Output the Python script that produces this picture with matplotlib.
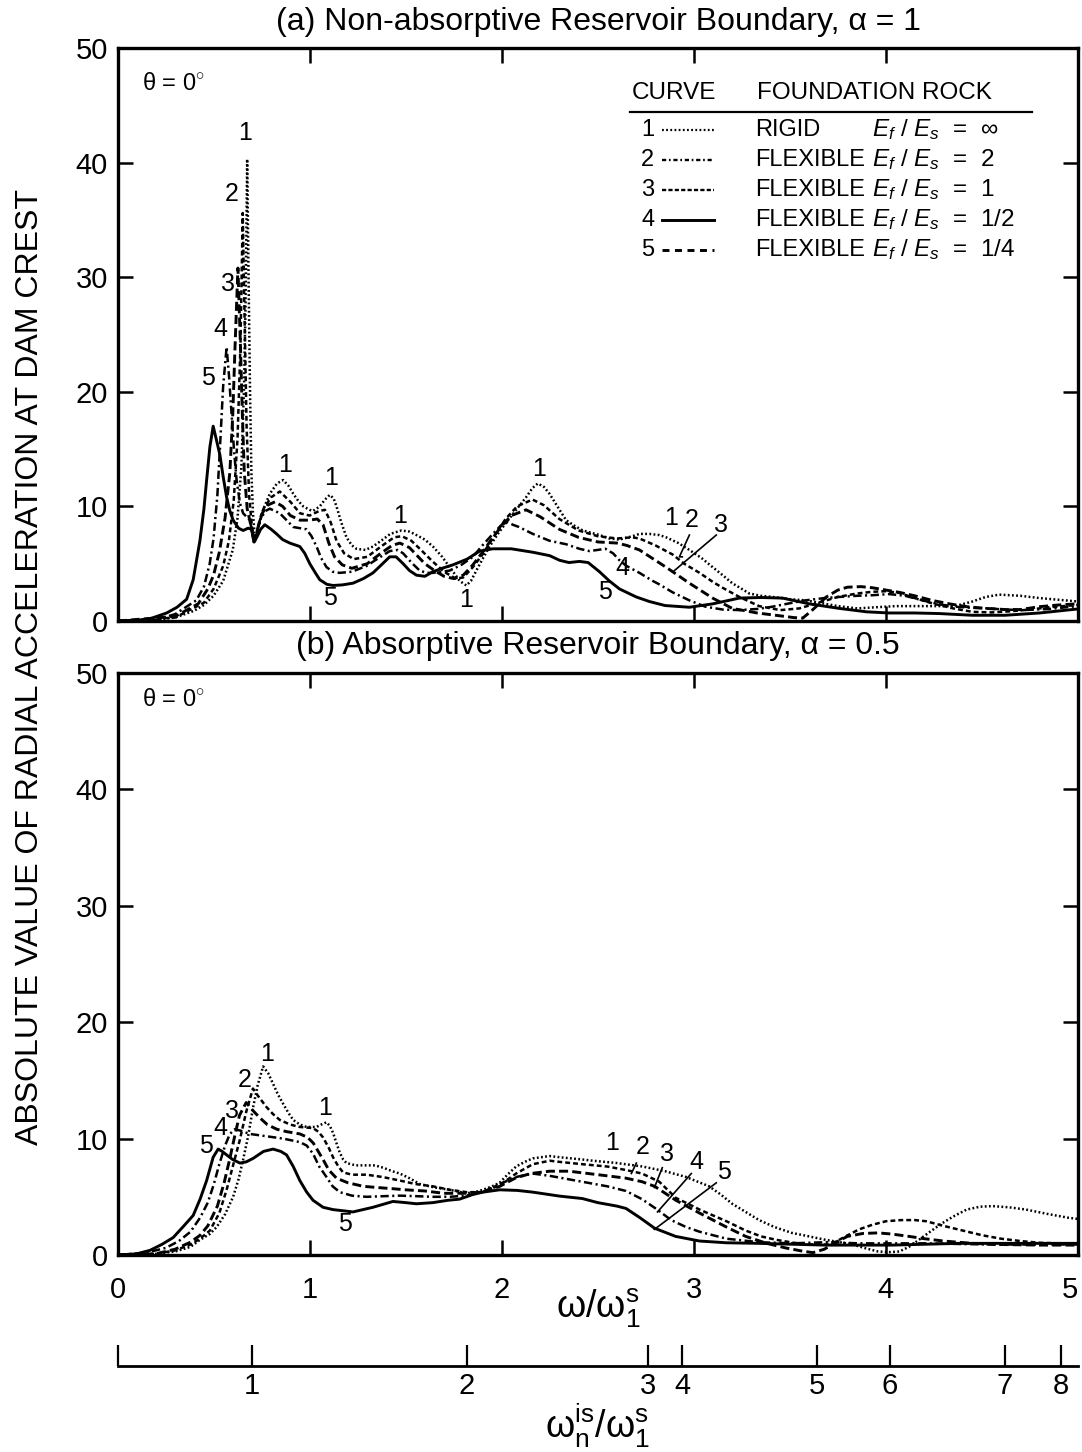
import matplotlib
matplotlib.use("Agg")
import matplotlib.pyplot as plt
from matplotlib.lines import Line2D

plt.rcParams['font.family'] = ['Liberation Sans', 'DejaVu Sans']
plt.rcParams['mathtext.fontset'] = 'custom'
plt.rcParams['mathtext.rm'] = 'Liberation Sans'
plt.rcParams['mathtext.it'] = 'Liberation Sans:italic'
plt.rcParams['mathtext.bf'] = 'Liberation Sans:bold'
plt.rcParams['lines.scale_dashes'] = False

# ---------------- data: |radial acceleration| vs omega/omega_1^s ----------------
# (a) non-absorptive reservoir boundary, alpha = 1
a1_x = [0, 0.2, 0.3, 0.4, 0.45, 0.5, 0.55, 0.6, 0.625, 0.645, 0.658, 0.667, 0.675, 0.683, 0.69, 0.697, 0.705,
        0.716, 0.73, 0.76, 0.793, 0.83, 0.862, 0.89, 0.915, 0.94, 0.967, 1.0, 1.018, 1.053, 1.08, 1.105, 1.125,
        1.14, 1.165, 1.192, 1.22, 1.244, 1.29, 1.33, 1.38, 1.42, 1.478, 1.52, 1.556, 1.6, 1.642, 1.69, 1.729,
        1.76, 1.781, 1.816, 1.84, 1.868, 1.9, 1.937, 1.98, 2.024, 2.08, 2.127, 2.16, 2.188, 2.22, 2.249, 2.29,
        2.335, 2.38, 2.422, 2.51, 2.56, 2.613, 2.68, 2.717, 2.769, 2.82, 2.856, 2.92, 2.977, 3.04, 3.098, 3.15,
        3.2, 3.25, 3.289, 3.35, 3.41, 3.5, 3.584, 3.65, 3.75, 3.85, 3.95, 4.05, 4.15, 4.25, 4.36, 4.45, 4.52,
        4.59, 4.7, 4.8, 4.9, 5.0]
a1_y = [0, 0.1, 0.3, 0.9, 1.4, 2.2, 3.5, 6.2, 9.0, 13.5, 20, 28, 40.3, 29, 20, 13, 9.5,
        6.9, 8.0, 9.8, 11.1, 12.0, 12.3, 11.8, 11.1, 10.5, 10.0, 9.7, 9.6, 10.0, 10.6, 11.0, 10.7,
        10.0, 8.6, 7.3, 6.6, 6.3, 6.2, 6.5, 7.1, 7.6, 7.9, 7.8, 7.5, 7.1, 6.5, 5.6, 4.7,
        4.0, 3.5, 3.1, 3.5, 4.4, 5.4, 6.5, 7.6, 8.6, 9.8, 10.8, 11.6, 12.0, 11.7, 11.1, 10.0,
        8.8, 8.3, 7.9, 7.5, 7.2, 7.1, 7.4, 7.6, 7.6, 7.5, 7.3, 6.8, 6.2, 5.5, 4.7, 4.0,
        3.3, 2.8, 2.4, 2.2, 2.1, 1.9, 1.8, 1.6, 1.3, 1.1, 1.2, 1.3, 1.3, 1.3, 1.3, 1.7, 2.1,
        2.3, 2.2, 2.0, 1.85, 1.7]

a2_x = [0, 0.3, 0.45, 0.5, 0.55, 0.58, 0.605, 0.625, 0.64, 0.652, 0.662, 0.672, 0.685, 0.7, 0.714, 0.73,
        0.76, 0.8, 0.845, 0.9, 0.95, 1.0, 1.05, 1.08, 1.11, 1.14, 1.18, 1.23, 1.3, 1.38, 1.44, 1.48, 1.53,
        1.58, 1.64, 1.7, 1.76, 1.8, 1.85, 1.9, 1.96, 2.02, 2.08, 2.16, 2.22, 2.3, 2.4, 2.5, 2.6, 2.68, 2.717,
        2.8, 2.89, 2.95, 3.03, 3.1, 3.15, 3.237, 3.34, 3.45, 3.55, 3.65, 3.75, 3.85, 3.93, 4.0, 4.07, 4.15,
        4.25, 4.35, 4.45, 4.55, 4.65, 4.75, 4.85, 5.0]
a2_y = [0, 0.3, 1.6, 2.8, 4.8, 7.0, 10.5, 16, 24, 35.6, 26, 17, 11, 8.2, 6.9, 8.0,
        9.8, 10.8, 11.3, 10.4, 9.4, 9.2, 9.6, 9.7, 8.6, 7.0, 5.9, 5.4, 5.6, 6.6, 7.3, 7.4, 7.0,
        6.2, 5.2, 4.3, 3.7, 3.8, 4.7, 5.8, 7.4, 8.9, 10.0, 10.6, 10.1, 8.9, 7.9, 7.4, 7.2, 7.3, 7.2,
        6.6, 5.8, 5.0, 4.2, 3.4, 2.9, 2.1, 1.3, 0.95, 1.1, 1.6, 2.1, 2.4, 2.55, 2.6, 2.45, 2.0,
        1.5, 1.1, 0.8, 0.75, 0.85, 1.0, 1.2, 1.4]

a3_x = [0, 0.3, 0.42, 0.47, 0.5, 0.53, 0.56, 0.585, 0.6, 0.612, 0.627, 0.64, 0.65, 0.66, 0.675, 0.695,
        0.712, 0.725, 0.75, 0.78, 0.82, 0.86, 0.9, 0.95, 1.0, 1.04, 1.07, 1.1, 1.13, 1.17, 1.22, 1.3, 1.37,
        1.43, 1.47, 1.52, 1.56, 1.6, 1.65, 1.7, 1.75, 1.8, 1.85, 1.9, 1.95, 2.0, 2.05, 2.127, 2.2, 2.3, 2.4,
        2.5, 2.6, 2.65, 2.717, 2.855, 2.977, 3.098, 3.2, 3.33, 3.45, 3.52, 3.567, 3.62, 3.69, 3.75, 3.8, 3.87,
        3.93, 4.0, 4.07, 4.15, 4.24, 4.33, 4.42, 4.52, 4.62, 4.7, 4.8, 4.9, 5.0]
a3_y = [0, 0.4, 1.5, 2.8, 4.0, 6.0, 9.0, 13.0, 18, 24, 30.8, 24, 18, 13, 9.8, 8.3,
        6.9, 7.8, 9.3, 10.1, 10.4, 10.0, 9.2, 8.8, 8.8, 8.9, 8.4, 6.8, 5.6, 4.9, 4.6, 5.0, 5.9,
        6.6, 6.8, 6.4, 5.7, 5.0, 4.4, 3.9, 3.7, 4.0, 4.9, 6.0, 7.2, 8.3, 9.2, 9.7, 9.1, 8.0, 7.3,
        6.9, 6.8, 6.6, 6.2, 4.7, 3.3, 2.0, 1.1, 0.7, 0.45, 0.3, 0.25, 1.0, 2.1, 2.7, 2.95, 3.0,
        2.9, 2.7, 2.5, 2.2, 1.8, 1.5, 1.25, 1.1, 1.0, 1.0, 1.25, 1.4, 1.5]

a4_x = [0, 0.2, 0.3, 0.41, 0.45, 0.48, 0.5, 0.52, 0.533, 0.55, 0.568, 0.58, 0.594, 0.607, 0.62, 0.637,
        0.654, 0.689, 0.71, 0.72, 0.741, 0.77, 0.793, 0.82, 0.845, 0.88, 0.915, 0.95, 0.984, 1.01, 1.036,
        1.06, 1.088, 1.12, 1.157, 1.22, 1.296, 1.36, 1.417, 1.46, 1.487, 1.53, 1.573, 1.61, 1.642, 1.69,
        1.729, 1.79, 1.85, 1.9, 1.954, 2.0, 2.02, 2.058, 2.09, 2.162, 2.249, 2.335, 2.405, 2.457, 2.54, 2.58,
        2.613, 2.65, 2.717, 2.786, 2.82, 2.89, 2.977, 3.06, 3.15, 3.237, 3.33, 3.41, 3.5, 3.58, 3.68, 3.757,
        3.85, 3.93, 4.017, 4.1, 4.19, 4.28, 4.36, 4.45, 4.53, 4.62, 4.71, 4.85, 5.0]
a4_y = [0, 0.1, 0.6, 1.8, 3.0, 5.0, 7.2, 11.0, 15.0, 20.5, 23.9, 21.5, 18.0, 14.8, 12.3, 10.3,
        9.4, 8.8, 6.9, 7.5, 8.8, 9.6, 9.8, 9.6, 9.4, 8.8, 8.2, 8.1, 8.0, 7.4, 6.5,
        5.5, 4.7, 4.3, 4.2, 4.3, 4.8, 5.5, 6.1, 6.2, 5.9, 5.1, 4.4, 4.2, 4.2, 4.3,
        4.4, 4.9, 5.6, 6.6, 7.6, 8.4, 8.7, 8.4, 8.2, 7.6, 7.0, 6.7, 6.3, 6.1, 6.3, 5.9,
        5.3, 4.8, 4.2, 3.5, 3.2, 2.5, 1.8, 1.25, 1.0, 0.95, 1.05, 1.25, 1.55, 1.8, 2.0, 2.1,
        2.2, 2.25, 2.35, 2.2, 1.8, 1.45, 1.25, 1.15, 1.1, 1.0, 0.95, 1.05, 1.3]

a5_x = [0, 0.1, 0.17, 0.256, 0.31, 0.36, 0.394, 0.429, 0.45, 0.464, 0.481, 0.498, 0.515, 0.533, 0.55,
        0.568, 0.585, 0.602, 0.63, 0.654, 0.68, 0.698, 0.71, 0.725, 0.745, 0.767, 0.8, 0.828, 0.86, 0.897,
        0.949, 0.975, 1.001, 1.03, 1.053, 1.09, 1.122, 1.17, 1.226, 1.28, 1.33, 1.38, 1.417, 1.45, 1.487,
        1.52, 1.556, 1.6, 1.642, 1.69, 1.746, 1.82, 1.885, 1.954, 2.05, 2.162, 2.25, 2.301, 2.35, 2.405,
        2.45, 2.509, 2.56, 2.613, 2.7, 2.769, 2.85, 2.977, 3.1, 3.237, 3.35, 3.462, 3.6, 3.757, 3.9, 4.017,
        4.15, 4.277, 4.45, 4.62, 4.8, 4.97, 5.0]
a5_y = [0, 0.05, 0.2, 0.7, 1.2, 1.9, 3.6, 7.0, 9.8, 12.3, 15.2, 17.0, 15.8, 14.5, 12.6,
        10.8, 9.6, 8.8, 8.1, 7.9, 8.1, 8.0, 6.9, 7.3, 8.0, 8.4, 8.0, 7.6, 7.1, 6.8,
        6.5, 5.9, 5.0, 4.2, 3.6, 3.2, 3.1, 3.15, 3.3, 3.7, 4.2, 5.0, 5.6, 5.6, 5.0,
        4.4, 4.0, 3.9, 4.3, 4.6, 4.9, 5.4, 6.1, 6.3, 6.3, 6.0, 5.7, 5.3, 5.1, 5.2,
        5.1, 4.3, 3.5, 2.8, 2.1, 1.7, 1.35, 1.2, 1.5, 2.0, 2.05, 2.0, 1.5, 1.1, 0.8, 0.7,
        0.7, 0.65, 0.5, 0.5, 0.7, 1.0, 1.05]

# (b) absorptive reservoir boundary, alpha = 0.5
b1_x = [0, 0.2, 0.3, 0.38, 0.429, 0.48, 0.516, 0.56, 0.602, 0.63, 0.654, 0.68, 0.706, 0.73, 0.758, 0.785,
        0.81, 0.835, 0.862, 0.89, 0.915, 0.95, 0.984, 1.036, 1.06, 1.088, 1.105, 1.122, 1.14, 1.157, 1.175,
        1.192, 1.24, 1.296, 1.34, 1.383, 1.43, 1.469, 1.52, 1.573, 1.65, 1.729, 1.816, 1.86, 1.902, 1.95,
        1.989, 2.03, 2.075, 2.12, 2.162, 2.249, 2.301, 2.422, 2.474, 2.6, 2.734, 2.85, 2.96, 3.02, 3.08,
        3.14, 3.2, 3.27, 3.34, 3.42, 3.51, 3.6, 3.687, 3.76, 3.826, 3.9, 3.96, 4.02, 4.07, 4.12, 4.172,
        4.23, 4.29, 4.35, 4.42, 4.49, 4.555, 4.64, 4.73, 4.85, 4.95, 5.0]
b1_y = [0, 0.1, 0.3, 0.7, 1.3, 1.8, 2.4, 3.5, 5.0, 6.5, 8.2, 10.2, 12.7, 14.6, 16.2, 15.6,
        14.7, 13.8, 13.0, 12.2, 11.6, 11.2, 11.0, 11.0, 11.2, 11.4, 11.1, 10.5, 9.6, 8.8, 8.2,
        7.9, 7.7, 7.7, 7.7, 7.5, 7.2, 7.0, 6.6, 6.1, 5.8, 5.6, 5.3, 5.4, 5.6, 5.9,
        6.2, 6.9, 7.6, 8.0, 8.3, 8.5, 8.4, 8.2, 8.1, 7.9, 7.6, 7.2, 6.7, 6.3, 5.9,
        5.2, 4.4, 3.7, 3.0, 2.4, 1.9, 1.6, 1.3, 1.1, 0.9, 0.55, 0.3, 0.25, 0.3, 0.7, 1.3,
        2.0, 2.7, 3.3, 3.9, 4.15, 4.2, 4.1, 3.9, 3.5, 3.2, 3.1]

b2_x = [0, 0.2, 0.3, 0.38, 0.43, 0.481, 0.53, 0.568, 0.6, 0.637, 0.67, 0.705, 0.73, 0.776, 0.81, 0.845,
        0.9, 0.949, 1.018, 1.045, 1.07, 1.1, 1.122, 1.15, 1.174, 1.22, 1.296, 1.38, 1.469, 1.55, 1.642,
        1.73, 1.816, 1.902, 1.99, 2.075, 2.162, 2.25, 2.301, 2.42, 2.55, 2.647, 2.73, 2.82, 2.907, 2.97,
        3.03, 3.1, 3.17, 3.27, 3.35, 3.43, 3.52, 3.6, 3.687, 3.74, 3.79, 3.86, 3.93, 4.0, 4.08, 4.15,
        4.21, 4.3, 4.4, 4.5, 4.6, 4.7, 4.8, 4.9, 5.0]
b2_y = [0, 0.1, 0.4, 0.9, 1.4, 2.1, 3.6, 5.6, 7.6, 9.9, 12.3, 14.3, 13.7, 12.7, 12.1, 11.6,
        11.2, 11.0, 10.9, 10.6, 10.1, 9.2, 8.4, 7.6, 7.1, 6.9, 6.9, 6.7, 6.4, 6.1, 5.9,
        5.6, 5.4, 5.4, 6.0, 7.0, 7.8, 8.1, 8.0, 7.8, 7.6, 7.3, 7.0, 6.3, 4.9, 4.4,
        3.9, 3.4, 2.9, 2.1, 1.6, 1.3, 1.05, 0.9, 0.9, 1.15, 1.6, 2.2, 2.6, 2.9, 3.0, 3.0,
        2.9, 2.5, 2.1, 1.7, 1.4, 1.2, 1.05, 1.0, 0.95]

b3_x = [0, 0.2, 0.3, 0.38, 0.43, 0.47, 0.52, 0.555, 0.585, 0.61, 0.635, 0.67, 0.7, 0.74, 0.78, 0.83,
        0.88, 0.95, 0.99, 1.02, 1.045, 1.07, 1.1, 1.14, 1.2, 1.28, 1.35, 1.43, 1.5, 1.6, 1.7, 1.8, 1.9,
        1.99, 2.07, 2.15, 2.25, 2.35, 2.45, 2.55, 2.647, 2.73, 2.796, 2.907, 3.03, 3.17, 3.27, 3.38, 3.48,
        3.56, 3.62, 3.68, 3.74, 3.8, 3.88, 3.96, 4.03, 4.12, 4.2, 4.3, 4.45, 4.6, 4.8, 5.0]
b3_y = [0, 0.1, 0.5, 1.1, 1.7, 2.5, 4.2, 6.2, 8.3, 10.2, 12.0, 13.1, 12.5, 11.8, 11.2, 10.8,
        10.6, 10.4, 10.1, 9.6, 8.9, 8.2, 7.3, 6.6, 6.2, 5.9, 5.8, 5.7, 5.6, 5.5, 5.3, 5.3, 5.4,
        5.9, 6.6, 7.0, 7.2, 7.2, 7.0, 6.8, 6.6, 6.3, 5.9, 4.7, 3.6, 2.4, 1.6, 1.0, 0.6,
        0.35, 0.2, 0.5, 1.1, 1.6, 1.85, 1.9, 1.8, 1.6, 1.4, 1.2, 1.0, 0.9, 0.85, 0.85]

b4_x = [0, 0.15, 0.25, 0.32, 0.38, 0.43, 0.47, 0.5, 0.53, 0.56, 0.585, 0.61, 0.637, 0.689, 0.776, 0.862,
        0.949, 0.985, 1.018, 1.05, 1.088, 1.12, 1.157, 1.22, 1.296, 1.38, 1.469, 1.56, 1.642, 1.73, 1.816,
        1.9, 1.99, 2.075, 2.16, 2.25, 2.35, 2.45, 2.55, 2.647, 2.73, 2.81, 2.882, 2.96, 3.03, 3.17, 3.34,
        3.51, 3.69, 3.86, 4.2, 4.55, 5.0]
b4_y = [0, 0.2, 0.6, 1.2, 2.0, 3.2, 4.5, 6.0, 7.8, 9.4, 10.4, 10.8, 10.7, 10.4, 10.2, 10.0,
        9.7, 9.4, 8.7, 7.6, 6.7, 5.9, 5.4, 5.1, 5.0, 5.05, 5.1, 5.05, 5.0, 5.0, 5.1,
        5.4, 6.1, 6.7, 7.0, 6.8, 6.5, 6.2, 5.9, 5.5, 4.8, 3.9, 3.0, 2.4, 2.0, 1.4, 1.1,
        1.0, 1.1, 1.0, 1.0, 0.9, 0.9]

b5_x = [0, 0.1, 0.169, 0.23, 0.29, 0.34, 0.394, 0.43, 0.464, 0.498, 0.524, 0.545, 0.568, 0.6, 0.637,
        0.67, 0.706, 0.76, 0.81, 0.85, 0.88, 0.915, 0.949, 0.985, 1.018, 1.07, 1.122, 1.226, 1.33, 1.434,
        1.5, 1.556, 1.642, 1.72, 1.781, 1.85, 1.902, 1.989, 2.08, 2.162, 2.301, 2.42, 2.5, 2.6, 2.647,
        2.72, 2.796, 2.905, 3.03, 3.17, 3.34, 3.687, 4.03, 4.38, 5.0]
b5_y = [0, 0.1, 0.4, 0.9, 1.5, 2.4, 3.4, 4.8, 6.4, 8.4, 9.1, 8.9, 8.6, 8.2, 7.9,
        8.0, 8.3, 8.9, 9.1, 8.9, 8.6, 7.6, 6.4, 5.4, 4.7, 4.1, 3.9, 3.7, 4.1, 4.6,
        4.5, 4.4, 4.5, 4.7, 4.8, 5.2, 5.4, 5.6, 5.55, 5.4, 5.06, 4.85, 4.5, 4.2, 4.0,
        3.2, 2.3, 1.6, 1.2, 1.05, 1.0, 0.85, 0.85, 1.0, 1.0]

panel_a = [(a1_x, a1_y), (a2_x, a2_y), (a3_x, a3_y), (a4_x, a4_y), (a5_x, a5_y)]
panel_b = [(b1_x, b1_y), (b2_x, b2_y), (b3_x, b3_y), (b4_x, b4_y), (b5_x, b5_y)]

# natural frequencies of the impounded water, omega_n^is / omega_1^s
water_n = ['1', '2', '3', '4', '5', '6', '7', '8']
water_freq = [0.70, 1.82, 2.76, 2.94, 3.64, 4.02, 4.62, 4.91]

y_ticks = [0, 10, 20, 30, 40, 50]
x_ticks = [0, 1, 2, 3, 4, 5]

legend_rows = [('1', 'RIGID', '∞'),
               ('2', 'FLEXIBLE', '2'),
               ('3', 'FLEXIBLE', '1'),
               ('4', 'FLEXIBLE', '1/2'),
               ('5', 'FLEXIBLE', '1/4')]

# ---------------- styling ----------------
curve_styles = [dict(ls=(0, (1.3, 1.7)), lw=1.8),
                dict(ls=(0, (3.5, 2.2)), lw=1.8),
                dict(ls=(0, (6.5, 3.0)), lw=2.1),
                dict(ls=(0, (6.0, 2.5, 1.5, 2.5)), lw=1.8),
                dict(ls='-', lw=2.1)]
legend_styles = [dict(ls=(0, (1.3, 1.7)), lw=1.6),
                 dict(ls=(0, (3.0, 2.0, 1.2, 2.0)), lw=1.7),
                 dict(ls=(0, (3.0, 1.6)), lw=1.7),
                 dict(ls='-', lw=2.1),
                 dict(ls=(0, (5.0, 4.0)), lw=2.1)]

W, H = 1082, 1452
fig = plt.figure(figsize=(W / 100, H / 100), dpi=100)


def fbox(l, t, r, b):
    return [l / W, 1 - b / H, (r - l) / W, (b - t) / H]


def fx(px):
    return px / W


def fy(py):
    return 1 - py / H


ax_a = fig.add_axes(fbox(117.5, 48, 1078, 621))
ax_b = fig.add_axes(fbox(117.5, 673, 1078, 1255))

for ax, curves in ((ax_a, panel_a), (ax_b, panel_b)):
    for (xs, ys), st in zip(curves, curve_styles):
        ax.plot(xs, ys, color='black', solid_capstyle='butt', dash_capstyle='butt', **st)
    ax.set_xlim(0, 5)
    ax.set_ylim(0, 50)
    ax.set_yticks(y_ticks)
    ax.set_xticks(x_ticks)
    for s in ax.spines.values():
        s.set_linewidth(2.4)
    ax.tick_params(direction='in', length=11, width=1.8, top=True, right=True,
                   labelsize=21, pad=7)
    ax.tick_params(axis='x', pad=15)

ax_a.tick_params(axis='x', labelbottom=False)
ax_b.get_xticklabels()[-1].set_horizontalalignment('right')

for ax, yy in ((ax_a, 0.938), (ax_b, 0.953)):
    ax.text(0.026, yy, 'θ = 0$^{\\circ}$', transform=ax.transAxes, fontsize=17,
            ha='left', va='center')

fig.text(fx(598), fy(22), '(a) Non-absorptive Reservoir Boundary, α = 1',
         ha='center', va='center', fontsize=23)
fig.text(fx(598), fy(646), '(b) Absorptive Reservoir Boundary, α = 0.5',
         ha='center', va='center', fontsize=23)
fig.text(fx(30), fy(667), 'ABSOLUTE VALUE OF RADIAL ACCELERATION AT DAM CREST',
         rotation=90, ha='center', va='center', fontsize=23)

# curve number labels
lab_a = [('1', 0.663, 42.6), ('2', 0.595, 37.3), ('3', 0.575, 29.4), ('4', 0.533, 25.5),
         ('5', 0.471, 21.2), ('1', 0.871, 13.6), ('1', 1.11, 12.5), ('1', 1.469, 9.15),
         ('5', 1.105, 2.0), ('1', 1.817, 1.83), ('1', 2.197, 13.3), ('5', 2.535, 2.5),
         ('4', 2.629, 4.6), ('1', 2.883, 9.0), ('2', 2.987, 8.8), ('3', 3.143, 8.4)]
for t, x, y in lab_a:
    ax_a.text(x, y, t, ha='center', va='center', fontsize=18)
ax_a.plot([2.977, 2.925, 2.94], [7.5, 5.6, 5.6], color='black', lw=1.2)
ax_a.plot([3.117, 2.899], [7.5, 4.4], color='black', lw=1.2)

lab_b = [('1', 0.778, 17.3), ('2', 0.663, 15.0), ('3', 0.595, 12.4), ('4', 0.533, 10.9),
         ('5', 0.46, 9.4), ('1', 1.079, 12.6), ('5', 1.183, 2.7), ('1', 2.577, 9.6),
         ('2', 2.733, 9.3), ('3', 2.863, 8.7), ('4', 3.013, 8.0), ('5', 3.159, 7.1)]
for t, x, y in lab_b:
    ax_b.text(x, y, t, ha='center', va='center', fontsize=18)
for (x0, y0, x1, y1) in [(2.701, 7.9, 2.675, 7.0), (2.836, 7.5, 2.795, 5.8),
                         (2.987, 7.0, 2.811, 3.7), (3.117, 6.2, 2.795, 2.2)]:
    ax_b.plot([x0, x1], [y0, y1], color='black', lw=1.2)

# legend table
fig.text(fx(632), fy(93), 'CURVE', ha='left', va='center', fontsize=17.5)
fig.text(fx(757), fy(93), 'FOUNDATION ROCK', ha='left', va='center', fontsize=17.5)
fig.add_artist(Line2D([fx(630), fx(1032)], [fy(112), fy(112)], color='black', lw=1.6,
                      transform=fig.transFigure))
row_y = [130, 160, 190, 220, 250]
for (num, kind, ratio), st, ry in zip(legend_rows, legend_styles, row_y):
    fig.text(fx(641), fy(ry), num, ha='left', va='center', fontsize=17)
    fig.add_artist(Line2D([fx(662), fx(714)], [fy(ry), fy(ry)], color='black',
                          transform=fig.transFigure, **st))
    fig.text(fx(755), fy(ry), kind, ha='left', va='center', fontsize=17)
    fig.text(fx(872), fy(ry), '$E_f$ / $E_s$  =  ' + ratio, ha='left', va='center',
             fontsize=17.5)

# main frequency axis label
fig.text(fx(598), fy(1308), r'$\mathrm{\omega}/\mathrm{\omega}_\mathrm{1}^\mathrm{s}$',
         ha='center', va='center', fontsize=27)

# secondary scale: natural frequencies of the impounded water
ax_c = fig.add_axes(fbox(117.5, 1340, 1078, 1366))
ax_c.set_xlim(0, 5)
ax_c.set_ylim(0, 1)
for side in ('top', 'left', 'right'):
    ax_c.spines[side].set_visible(False)
ax_c.spines['bottom'].set_linewidth(2.0)
ax_c.patch.set_alpha(0)
ax_c.set_yticks([])
ax_c.set_xticks([0] + water_freq)
ax_c.set_xticklabels([''] + water_n)
ax_c.tick_params(axis='x', direction='in', length=15, width=1.6, labelsize=21, pad=4)
fig.text(fx(598), fy(1426), r'$\mathrm{\omega}_\mathrm{n}^\mathrm{is}/\mathrm{\omega}_\mathrm{1}^\mathrm{s}$',
         ha='center', va='center', fontsize=27)

fig.savefig('out.png', dpi=100, facecolor='white')
